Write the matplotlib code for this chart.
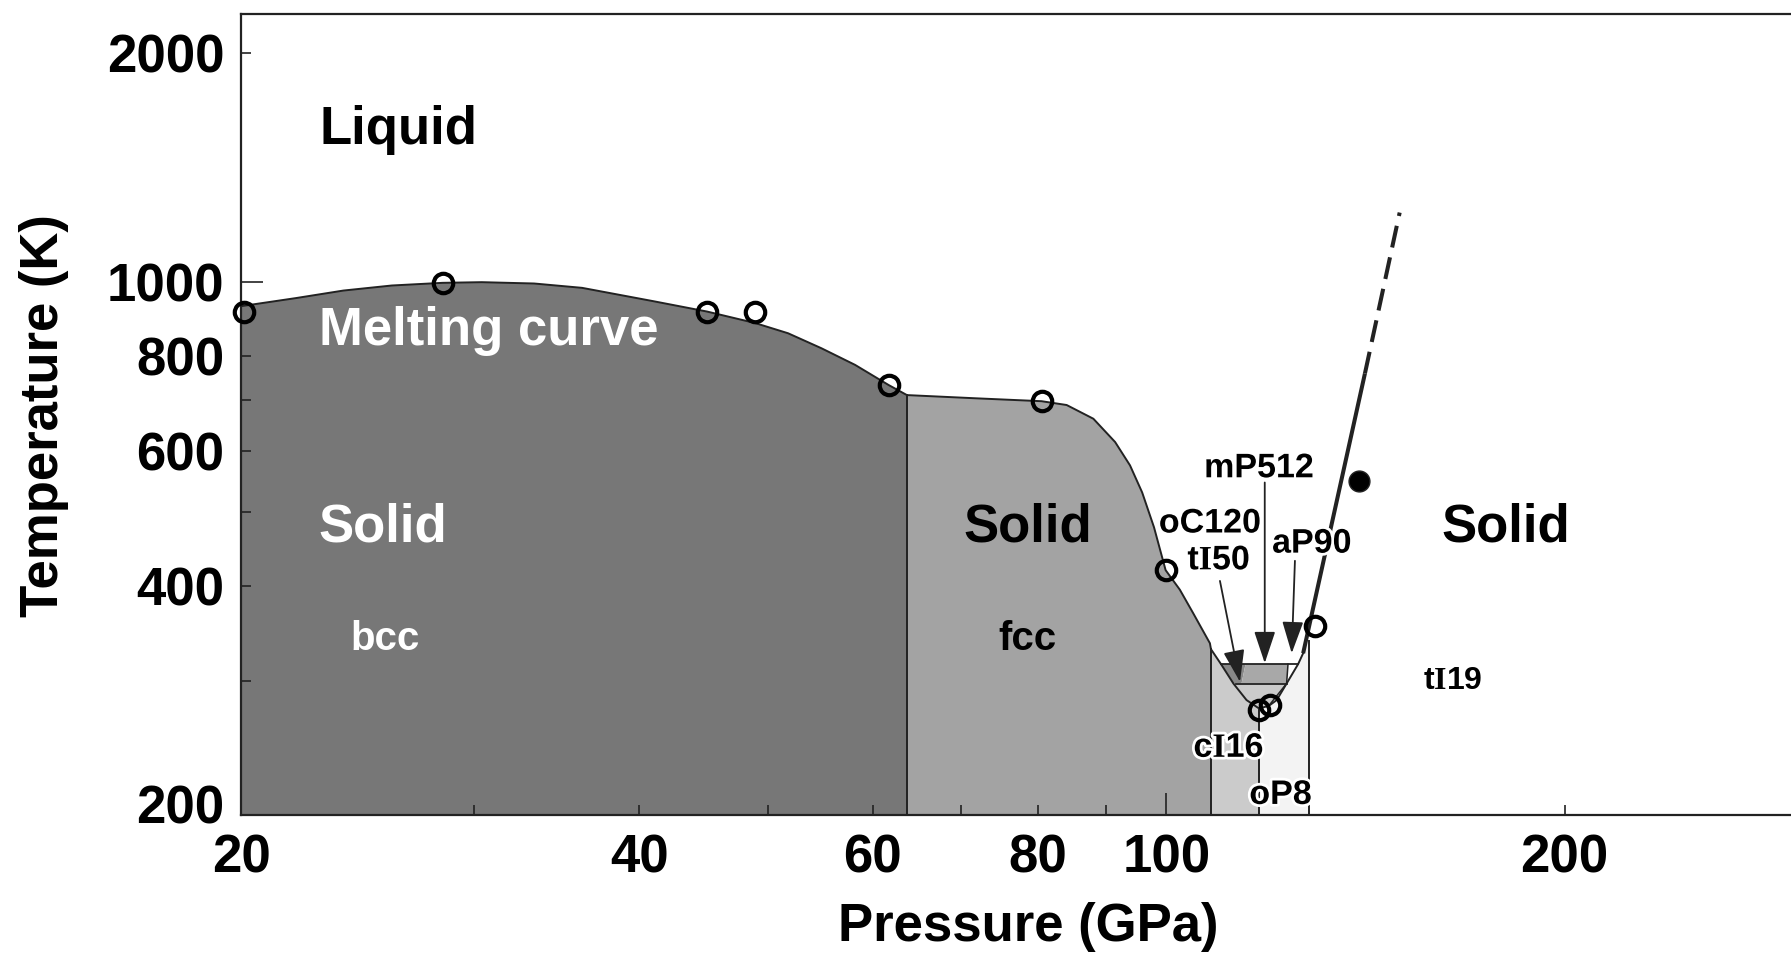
import matplotlib
matplotlib.use("Agg")
import matplotlib.pyplot as plt
import matplotlib.patheffects as pe
import matplotlib.transforms as mtrans
from matplotlib.ticker import FixedLocator, NullFormatter

plt.rcParams['font.family'] = ['Liberation Sans', 'DejaVu Sans']
plt.rcParams['font.weight'] = 'bold'
plt.rcParams['mathtext.fontset'] = 'custom'
plt.rcParams['mathtext.bf'] = 'Liberation Serif:bold'
plt.rcParams['mathtext.rm'] = 'Liberation Sans:bold'

# melting curve of Na (GPa, K)
MELT_P = [20.0, 22.0, 23.9, 26.0, 28.4, 30.4, 33.3, 36.2, 41.0, 45.0, 48.9, 51.8,
          54.9, 58.2, 61.7, 63.7, 72.0, 80.5, 84.1, 88.1, 91.5, 93.9, 95.9, 97.9,
          99.9, 102.4, 104.8, 107.9, 108.1, 110.0, 112.4, 115.0, 117.5, 119.5,
          121.2, 123.3, 125.8, 126.9]
MELT_T = [930, 953, 975, 990, 998, 1000, 996, 983, 944, 915, 884, 857,
          819, 779, 733, 711, 704, 698, 690, 662, 617, 575, 530, 477,
          419, 395, 368, 336, 330, 315.5, 297.5, 283, 276, 278,
          283, 297.5, 315.5, 326]

# steep melting line of tI19, solid then extrapolated
TI19_P = [126.9, 141.3]
TI19_T = [326, 759]
TI19_EXT_P = [141.3, 150.1]
TI19_EXT_T = [759, 1234]

# solid-solid boundaries (pressure, top temperature)
BOUND_P = [63.7, 108.1, 117.5, 128.1]
BOUND_TOP = [711, 330, 276, 338]

# phase bands below the melt
BAND_EDGES = [20, 63.7, 108.1, 117.5, 128.1]
BAND_COLORS = ['#777777', '#a3a3a3', '#cbcbcb', '#f3f3f3']

# small phases in the melting minimum
TI50_P = [110.0, 114.8, 114.0, 112.4]
TI50_T = [315.5, 315.5, 297.5, 297.5]
MP512_P = [114.8, 123.6, 123.3, 114.0]
MP512_T = [315.5, 315.5, 297.5, 297.5]
BOWL_P = [112.4, 115.0, 117.5, 119.7, 123.3]
BOWL_T = [297.5, 283, 276, 279, 297.5]

# measured melting points
OPEN_P = [20.1, 28.4, 45.0, 48.9, 61.7, 80.5, 99.9, 117.6, 119.7, 129.6]
OPEN_T = [915, 998, 915, 915, 733, 698, 419, 275, 279, 354]
FILLED_P = [139.9]
FILLED_T = [548]

XTICKS = [20, 40, 60, 80, 100, 200]
XMINOR = [30, 50, 70, 90]
YTICKS = [200, 400, 600, 800, 1000, 2000]
YMINOR = [300, 500, 700]

fig = plt.figure(figsize=(17.91, 9.57), dpi=100)
ax = fig.add_axes([241 / 1791, 1 - 815 / 957, 1550 / 1791, 801.3 / 957])
ax.set_xscale('log')
ax.set_yscale('log')
ax.set_xlim(20, 296.5)
ax.set_ylim(200, 2250)

# shaded bands under the melting curve
for i, col in enumerate(BAND_COLORS):
    lo, hi = BAND_EDGES[i], BAND_EDGES[i + 1]
    pts = [(p, t) for p, t in zip(MELT_P, MELT_T) if lo <= p <= hi]
    if pts[-1][0] < hi:
        pts.append((hi, BOUND_TOP[i]))
    xs = [lo] + [p for p, _ in pts] + [hi]
    ys = [200] + [t for _, t in pts] + [200]
    ax.fill(xs, ys, color=col, lw=0, zorder=1)

ax.fill(BOWL_P, BOWL_T, color=BAND_COLORS[2], lw=0, zorder=1)
ax.fill(TI50_P, TI50_T, color='#888888', lw=0, zorder=1.5)
ax.fill(MP512_P, MP512_T, color='#a8a8a8', lw=0, zorder=1.5)

for p, top in zip(BOUND_P, BOUND_TOP):
    ax.plot([p, p], [200, top], color='#222222', lw=1.4, zorder=2)

ax.plot(MELT_P, MELT_T, color='#222222', lw=1.4, zorder=3)
ax.plot([TI50_P[0], 125.8], [315.5, 315.5], color='#222222', lw=1.3, zorder=3)
ax.plot([TI50_P[3] + 0.5, MP512_P[2]], [297.5, 297.5], color='#222222', lw=1.3, zorder=3)
ax.plot([MP512_P[1], MP512_P[2], 119.7], [315.5, 297.5, 279], color='#222222', lw=1.1, zorder=3)

ax.plot(TI19_P, TI19_T, color='#222222', lw=2.9, zorder=3, solid_capstyle='butt')
ax.plot(TI19_EXT_P, TI19_EXT_T, color='#222222', lw=2.9, zorder=3,
        dashes=(5.5, 2.5), dash_capstyle='butt')

ax.plot(OPEN_P, OPEN_T, 'o', ms=14, mfc='none', mec='black', mew=3.0,
        zorder=5, clip_on=False)
ax.plot(FILLED_P, FILLED_T, 'o', ms=15, mfc='black', mec='#222222', mew=1,
        zorder=5)

# arrows to the tiny phases
arrow_kw = dict(arrowstyle='-|>,head_length=0.9,head_width=0.3', color='#222222',
                lw=1.3, shrinkA=0, shrinkB=0, mutation_scale=22)
ax.annotate('', xy=(113.7, 299), xytext=(109.8, 405.6), arrowprops=arrow_kw, zorder=4)
ax.annotate('', xy=(118.7, 316.4), xytext=(118.7, 546), arrowprops=arrow_kw, zorder=4)
ax.annotate('', xy=(124.4, 326), xytext=(125.1, 431), arrowprops=arrow_kw, zorder=4)

big = 38
ax.text(26.3, 1519, 'Liquid', fontsize=big, ha='center', va='baseline', color='black')
ax.text(30.8, 827.7, 'Melting curve', fontsize=big, ha='center', va='baseline', color='white')
ax.text(25.6, 456.8, 'Solid', fontsize=big, ha='center', va='baseline', color='white')
ax.text(78.6, 456.8, 'Solid', fontsize=big, ha='center', va='baseline', color='black')
ax.text(180.4, 456.8, 'Solid', fontsize=big, ha='center', va='baseline', color='black')
ax.text(25.7, 329.6, 'bcc', fontsize=29, ha='center', va='baseline', color='white')
ax.text(78.6, 329.6, 'fcc', fontsize=29, ha='center', va='baseline', color='black')
ax.text(164.6, 292.6, r't$\mathbf{I}$19', fontsize=23, ha='center', va='baseline')

halo = [pe.withStroke(linewidth=4, foreground='white')]
small = [
    ('mP512', 117.5, 554.7),
    ('oC120', 107.9, 469.5),
    (r't$\mathbf{I}$50', 109.6, 420),
    ('aP90', 128.8, 441.8),
    (r'c$\mathbf{I}$16', 111.5, 238.4),
    ('oP8', 122.0, 206.8),
]
for label, p, t in small:
    ax.text(p, t, label, fontsize=24.5, ha='center', va='baseline', color='black',
            path_effects=halo, zorder=6)

# axes, ticks
ax.xaxis.set_major_locator(FixedLocator(XTICKS))
ax.xaxis.set_minor_locator(FixedLocator(XMINOR))
ax.yaxis.set_major_locator(FixedLocator(YTICKS))
ax.yaxis.set_minor_locator(FixedLocator(YMINOR))
ax.set_xticklabels([str(v) for v in XTICKS])
ax.set_yticklabels([str(v) for v in YTICKS])
ax.xaxis.set_minor_formatter(NullFormatter())
ax.yaxis.set_minor_formatter(NullFormatter())
ax.tick_params(which='both', direction='in', length=7, width=1.2, color='#222222',
               top=False, right=False)
ax.tick_params(axis='x', which='major', labelsize=38, pad=13)
ax.tick_params(axis='y', which='major', labelsize=38, pad=12)
for tk in ax.xaxis.get_major_ticks():
    if tk.get_loc() == 100:
        tk.tick1line.set_markersize(16)
for tk in ax.yaxis.get_major_ticks():
    if tk.get_loc() == 1000:
        tk.tick1line.set_markersize(16)

# lift the lowest temperature label clear of the pressure labels
low = ax.yaxis.get_major_ticks()[0].label1
low.set_transform(low.get_transform()
                  + mtrans.ScaledTranslation(0, 8 / 72, fig.dpi_scale_trans))

for side in ('left', 'bottom', 'top'):
    ax.spines[side].set_linewidth(1.6)
    ax.spines[side].set_color('#222222')
    ax.spines[side].set_zorder(4)
ax.spines['right'].set_visible(False)

ax.set_xlabel('Pressure (GPa)', fontsize=38, fontweight='bold')
ax.set_ylabel('Temperature (K)', fontsize=38, fontweight='bold')
ax.xaxis.set_label_coords(0.508, -0.108)
ax.yaxis.set_label_coords(-0.111, 0.498)

fig.savefig('out.png', dpi=100)
